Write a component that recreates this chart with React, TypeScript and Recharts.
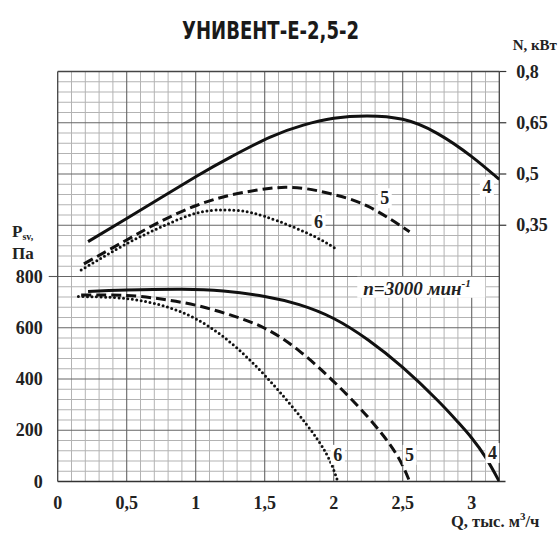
import React from 'react';
import { ComposedChart, Line, XAxis, YAxis, ReferenceLine, ReferenceDot } from 'recharts';

const W = 560;
const H = 533;

const qTicks = [0, 0.5, 1, 1.5, 2, 2.5, 3];
const pTicks = [0, 200, 400, 600, 800];
const nTicks = [0.35, 0.5, 0.65, 0.8];

// Pressure curves P_sv (Pa) vs Q (thousand m3/h)
const p4 = [
  { q: 0.22, p: 741 }, { q: 0.5, p: 747 }, { q: 0.9, p: 750 }, { q: 1.2, p: 743 },
  { q: 1.5, p: 722 }, { q: 1.75, p: 690 }, { q: 2.0, p: 636 }, { q: 2.25, p: 552 },
  { q: 2.5, p: 445 }, { q: 2.75, p: 318 }, { q: 2.9, p: 232 }, { q: 3.0, p: 170 },
  { q: 3.1, p: 95 }, { q: 3.2, p: 0 },
];
const p5 = [
  { q: 0.17, p: 728 }, { q: 0.5, p: 726 }, { q: 0.75, p: 712 }, { q: 1.0, p: 688 },
  { q: 1.25, p: 650 }, { q: 1.5, p: 598 }, { q: 1.75, p: 510 }, { q: 2.0, p: 390 },
  { q: 2.25, p: 250 }, { q: 2.45, p: 110 }, { q: 2.55, p: 0 },
];
const p6 = [
  { q: 0.15, p: 722 }, { q: 0.4, p: 718 }, { q: 0.6, p: 706 }, { q: 0.8, p: 680 },
  { q: 1.0, p: 635 }, { q: 1.2, p: 565 }, { q: 1.4, p: 470 }, { q: 1.6, p: 355 },
  { q: 1.8, p: 225 }, { q: 1.95, p: 105 }, { q: 2.03, p: 0 },
];

// Power curves N (kW) vs Q
const n4 = [
  { q: 0.22, n: 0.302 }, { q: 0.5, n: 0.37 }, { q: 1.0, n: 0.492 }, { q: 1.26, n: 0.551 },
  { q: 1.54, n: 0.608 }, { q: 1.78, n: 0.643 }, { q: 2.0, n: 0.663 }, { q: 2.24, n: 0.67 },
  { q: 2.5, n: 0.66 }, { q: 2.75, n: 0.619 }, { q: 3.0, n: 0.551 }, { q: 3.2, n: 0.484 },
];
const n5 = [
  { q: 0.19, n: 0.237 }, { q: 0.5, n: 0.307 }, { q: 0.75, n: 0.362 }, { q: 1.0, n: 0.407 },
  { q: 1.25, n: 0.438 }, { q: 1.5, n: 0.456 }, { q: 1.65, n: 0.461 }, { q: 1.8, n: 0.457 },
  { q: 2.0, n: 0.44 }, { q: 2.25, n: 0.405 }, { q: 2.55, n: 0.331 },
];
const n6 = [
  { q: 0.17, n: 0.219 }, { q: 0.5, n: 0.296 }, { q: 0.75, n: 0.345 }, { q: 1.0, n: 0.385 },
  { q: 1.2, n: 0.395 }, { q: 1.35, n: 0.391 }, { q: 1.5, n: 0.376 }, { q: 1.7, n: 0.346 },
  { q: 1.9, n: 0.309 }, { q: 2.03, n: 0.277 },
];

// Curve labels
const pLabels = [
  { q: 3.15, p: 111, t: '4' }, { q: 2.55, p: 104, t: '5' }, { q: 2.03, p: 104, t: '6' },
];
const nLabels = [
  { q: 3.11, n: 0.463, t: '4' }, { q: 2.37, n: 0.429, t: '5' }, { q: 1.89, n: 0.36, t: '6' },
];

const Q_MAX = 3.2;
const P_MAX = 1600;
const minorQ: number[] = [];
for (let i = 1; i < 32; i++) if (i % 5 !== 0) minorQ.push(i / 10);
const majorQ = [0.5, 1, 1.5, 2, 2.5, 3];
const minorP: number[] = [];
for (let i = 1; i < 40; i++) if (i % 5 !== 0) minorP.push(i * 40);
const majorP = [200, 400, 600, 800, 1000, 1200, 1400];

const SERIF = "'Liberation Serif', 'Times New Roman', serif";
const fmt = (v: number) => String(v).replace('.', ',');

const XTick = (props: any) => {
  const { x, y, payload } = props;
  return (
    <text x={x} y={y + 27} textAnchor="middle" fontFamily={SERIF} fontWeight="bold" fontSize={18} fill="#222">
      {fmt(payload.value)}
    </text>
  );
};
const LTick = (props: any) => {
  const { x, y, payload } = props;
  return (
    <text x={x - 15} y={y + 6} textAnchor="end" fontFamily={SERIF} fontWeight="bold" fontSize={18} fill="#222">
      {fmt(payload.value)}
    </text>
  );
};
const RTick = (props: any) => {
  const { x, y, payload } = props;
  return (
    <text x={x + 10} y={y + 6} textAnchor="start" fontFamily={SERIF} fontWeight="bold" fontSize={18} fill="#222">
      {fmt(payload.value)}
    </text>
  );
};

const makeLabel = (t: string) => (props: any) => {
  const { cx, cy } = props;
  return (
    <g>
      <rect x={cx - 7} y={cy - 10} width={14} height={20} fill="#fff" />
      <text x={cx} y={cy + 6} textAnchor="middle" fontFamily={SERIF} fontWeight="bold" fontSize={18} fill="#222">
        {t}
      </text>
    </g>
  );
};

const SpeedLabel = (props: any) => {
  const { cx, cy } = props;
  return (
    <g>
      <rect x={cx - 62} y={cy - 11} width={128} height={21} fill="#fff" />
      <text x={cx - 56} y={cy + 7} fontFamily={SERIF} fontWeight="bold" fontStyle="italic" fontSize={19} fill="#222">
        n=3000 мин
        <tspan dy={-8} fontSize={11}>-1</tspan>
      </text>
    </g>
  );
};

const curve = { stroke: '#111', strokeWidth: 3, dot: false as const, isAnimationActive: false, type: 'natural' as const };

export default function App() {
  return (
    <div style={{ position: 'absolute', left: 0, top: 0, width: W, height: H, background: '#fff' }}>
      <ComposedChart width={W} height={H} margin={{ top: 71.5, right: 10.7, bottom: 21.5, left: 12.7 }}>
        <XAxis
          type="number"
          dataKey="q"
          domain={[0, Q_MAX]}
          ticks={qTicks}
          allowDataOverflow
          height={30}
          tickLine={false}
          axisLine={false}
          tickSize={0}
          tickMargin={0}
          tick={<XTick />}
        />
        <YAxis
          yAxisId="p"
          type="number"
          domain={[0, P_MAX]}
          ticks={pTicks}
          allowDataOverflow
          width={45}
          tickLine={false}
          axisLine={false}
          tickSize={0}
          tickMargin={0}
          tick={<LTick />}
        />
        <YAxis
          yAxisId="n"
          orientation="right"
          type="number"
          domain={[-0.4, 0.8]}
          ticks={nTicks}
          allowDataOverflow
          width={50}
          axisLine={false}
          tickLine={{ stroke: '#333', strokeWidth: 1.2 }}
          tickSize={7}
          tickMargin={0}
          tick={<RTick />}
        />

        {minorQ.map((v) => (
          <ReferenceLine key={'mq' + v} yAxisId="p" x={v} stroke="#b3b3b3" strokeWidth={1} />
        ))}
        {minorP.map((v) => (
          <ReferenceLine key={'mp' + v} yAxisId="p" y={v} stroke="#b3b3b3" strokeWidth={1} />
        ))}
        {majorQ.map((v) => (
          <ReferenceLine key={'Mq' + v} yAxisId="p" x={v} stroke="#666" strokeWidth={1.1} />
        ))}
        {majorP.map((v) => (
          <ReferenceLine key={'Mp' + v} yAxisId="p" y={v} stroke="#666" strokeWidth={1.1} />
        ))}
        <ReferenceLine yAxisId="p" x={0} stroke="#444" strokeWidth={1.3} />
        <ReferenceLine yAxisId="p" x={Q_MAX} stroke="#444" strokeWidth={1.3} />
        <ReferenceLine yAxisId="p" y={P_MAX} stroke="#444" strokeWidth={1.3} />
        <ReferenceLine
          yAxisId="p"
          ifOverflow="visible"
          segment={[{ x: 0, y: 0 }, { x: 3.245, y: 0 }]}
          stroke="#333"
          strokeWidth={1.5}
        />
        <ReferenceLine
          yAxisId="p"
          ifOverflow="visible"
          segment={[{ x: -0.065, y: 800 }, { x: 0, y: 800 }]}
          stroke="#555"
          strokeWidth={1.1}
        />

        <Line yAxisId="p" data={p4} dataKey="p" {...curve} />
        <Line yAxisId="p" data={p5} dataKey="p" {...curve} strokeDasharray="10 5" />
        <Line yAxisId="p" data={p6} dataKey="p" {...curve} strokeDasharray="0 4.5" strokeLinecap="round" />
        <Line yAxisId="n" data={n4} dataKey="n" {...curve} />
        <Line yAxisId="n" data={n5} dataKey="n" {...curve} strokeDasharray="10 5" />
        <Line yAxisId="n" data={n6} dataKey="n" {...curve} strokeDasharray="0 4.5" strokeLinecap="round" />

        {pLabels.map((l) => (
          <ReferenceDot key={'pl' + l.t} yAxisId="p" x={l.q} y={l.p} r={0} ifOverflow="visible" shape={makeLabel(l.t)} />
        ))}
        {nLabels.map((l) => (
          <ReferenceDot key={'nl' + l.t} yAxisId="n" x={l.q} y={l.n} r={0} ifOverflow="visible" shape={makeLabel(l.t)} />
        ))}
        <ReferenceDot yAxisId="p" x={2.62} y={756} r={0} ifOverflow="visible" shape={SpeedLabel} />
      </ComposedChart>

      <svg width={W} height={H} style={{ position: 'absolute', left: 0, top: 0, pointerEvents: 'none' }}>
        <text
          x={270.5}
          y={39}
          textAnchor="middle"
          fontFamily="'DejaVu Sans Condensed', 'Liberation Sans Narrow', Roboto, sans-serif"
          fontWeight="bold"
          fontSize={24}
          textLength={177}
          lengthAdjust="spacingAndGlyphs"
          fill="#1a1a1a"
        >
          УНИВЕНТ-Е-2,5-2
        </text>
        <text x={557} y={50} textAnchor="end" fontFamily={SERIF} fontWeight="bold" fontSize={15} fill="#222">
          N, кВт
        </text>
        <text x={12} y={237} fontFamily={SERIF} fontWeight="bold" fontSize={17} fill="#222">
          P
          <tspan fontSize={10} dy={3}>sv,</tspan>
        </text>
        <text x={12} y={259} fontFamily={SERIF} fontWeight="bold" fontSize={17} fill="#222">
          Па
        </text>
        <text x={451} y={527} fontFamily={SERIF} fontWeight="bold" fontSize={16.5} fill="#222">
          Q, тыс. м
          <tspan fontSize={11} dy={-7}>3</tspan>
          <tspan dy={7}>/ч</tspan>
        </text>
      </svg>
    </div>
  );
}
